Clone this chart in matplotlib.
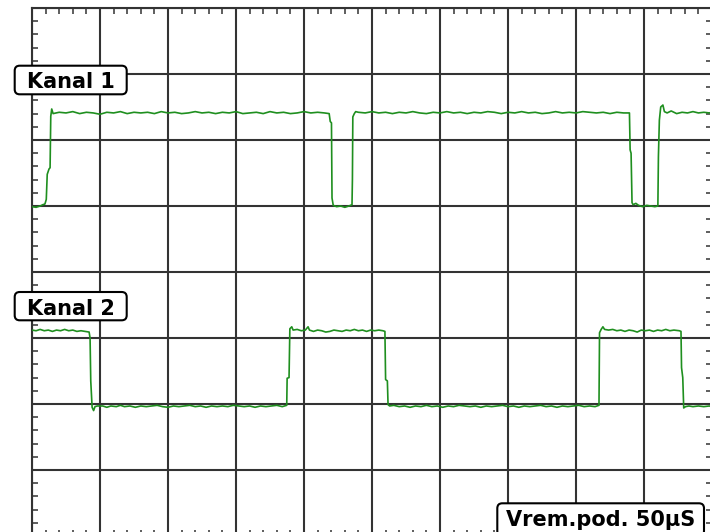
import matplotlib.pyplot as plt
from matplotlib.patches import FancyBboxPatch
from matplotlib.ticker import MultipleLocator

# time in microseconds, level in screen divisions (0 = bottom of screen)
ch1_t = [0, 3, 6, 8, 9.5, 10.5, 11.2, 12.5, 13.3, 13.8, 14.5, 15.5,
         20, 25, 30, 35, 40, 45, 50, 55, 60, 65, 70, 75, 80, 85, 90, 95, 100,
         105, 110, 115, 120, 125, 130, 135, 140, 145, 150, 155, 160, 165, 170,
         175, 180, 185, 190, 195, 200, 205, 210, 215, 218.5,
         219.3, 220.2, 220.6, 221.5, 224, 227, 230, 233, 235.3, 235.6, 235.9, 237, 238,
         240, 245, 250, 255, 260, 265, 270, 275, 280, 285, 290, 295, 300, 305,
         310, 315, 320, 325, 330, 335, 340, 345, 350, 355, 360, 365, 370, 375,
         380, 385, 390, 395, 400, 405, 410, 415, 420, 425, 430, 435, 439.3,
         439.8, 440.5, 441.2, 442, 444, 446, 449, 452, 455, 458, 460.2,
         460.6, 461.3, 462.3, 463.9, 465, 467, 470, 474, 478, 482, 486, 490, 494, 498, 500]
ch1_v = [4.99, 4.98, 5.00, 5.02, 5.03, 5.10, 5.48, 5.56, 5.58, 6.36, 6.47, 6.40,
         6.42, 6.41, 6.43, 6.40, 6.42, 6.41, 6.39, 6.42, 6.41, 6.43, 6.40, 6.42, 6.41, 6.42, 6.40, 6.43, 6.41,
         6.42, 6.40, 6.41, 6.43, 6.41, 6.42, 6.40, 6.42, 6.41, 6.43, 6.40, 6.41, 6.42, 6.40,
         6.43, 6.41, 6.42, 6.40, 6.41, 6.43, 6.41, 6.42, 6.41, 6.40,
         6.28, 6.26, 5.12, 5.01, 4.99, 5.00, 4.98, 5.00, 5.02, 5.40, 6.35, 6.40, 6.43,
         6.42, 6.41, 6.43, 6.41, 6.42, 6.40, 6.42, 6.41, 6.43, 6.41, 6.40, 6.42, 6.41, 6.43,
         6.41, 6.42, 6.40, 6.42, 6.41, 6.43, 6.42, 6.40, 6.42, 6.41, 6.43, 6.41, 6.42, 6.40,
         6.41, 6.43, 6.41, 6.42, 6.41, 6.43, 6.42, 6.41, 6.42, 6.40, 6.42, 6.41, 6.41,
         5.85, 5.80, 5.05, 5.02, 5.04, 5.01, 4.99, 5.01, 5.00, 4.99, 5.00,
         5.75, 6.30, 6.50, 6.53, 6.43, 6.41, 6.44, 6.40, 6.42, 6.41, 6.43, 6.41, 6.42, 6.41, 6.42]

ch2_t = [0, 3, 6, 9, 12, 15, 18, 21, 24, 27, 30, 33, 36, 39, 42,
         42.7, 43.2, 43.6, 44.2, 45.3, 46.3,
         48, 52, 55, 58, 62, 65, 68, 72, 76, 80, 84, 88, 92, 96, 100, 104, 108,
         112, 116, 120, 124, 128, 132, 136, 140, 144, 148, 152, 156, 160, 164,
         168, 172, 176, 180, 184, 187.3,
         187.6, 189.0, 189.6, 191, 192, 195, 198, 201, 203, 204, 207, 210, 213,
         216, 219, 222, 225, 228, 231, 234, 237, 240, 243, 246, 249, 252, 255, 258, 259.5,
         260.0, 261.3, 261.8, 263, 266, 270, 274, 278, 282, 286, 290, 294, 298,
         302, 306, 310, 314, 318, 322, 326, 330, 334, 338, 342, 346, 350, 354,
         358, 362, 366, 370, 374, 378, 382, 386, 390, 394, 398, 402, 406, 410, 414, 416.9,
         417.3, 418.5, 419.8, 421, 424, 427, 430, 433, 436, 439, 442, 445, 448,
         451, 454, 457, 460, 463, 466, 469, 472, 476, 477.2,
         477.6, 478.5, 479.2, 480.5, 483, 486, 490, 494, 498, 500]
ch2_v = [3.12, 3.11, 3.13, 3.11, 3.12, 3.10, 3.12, 3.11, 3.13, 3.11, 3.12, 3.10, 3.11, 3.10, 3.09,
         3.00, 2.35, 2.20, 1.95, 1.90, 1.96,
         1.97, 1.97, 1.95, 1.97, 1.96, 1.98, 1.96, 1.97, 1.95, 1.97, 1.96, 1.97, 1.98, 1.96, 1.95, 1.97, 1.96,
         1.97, 1.98, 1.96, 1.97, 1.95, 1.97, 1.96, 1.97, 1.96, 1.98, 1.97, 1.96, 1.97, 1.95,
         1.97, 1.96, 1.97, 1.98, 1.96, 1.98,
         2.39, 2.40, 3.14, 3.17, 3.12, 3.13, 3.11, 3.12, 3.17, 3.12, 3.10, 3.12, 3.11,
         3.09, 3.10, 3.12, 3.11, 3.10, 3.12, 3.11, 3.13, 3.11, 3.12, 3.10, 3.12, 3.11, 3.12, 3.11, 3.10,
         2.37, 2.35, 1.99, 1.97, 1.98, 1.96, 1.97, 1.95, 1.97, 1.96, 1.98, 1.96, 1.97,
         1.95, 1.97, 1.96, 1.98, 1.97, 1.96, 1.97, 1.95, 1.97, 1.96, 1.97, 1.98, 1.96, 1.97,
         1.95, 1.97, 1.96, 1.97, 1.98, 1.96, 1.97, 1.95, 1.97, 1.96, 1.97, 1.98, 1.96, 1.97, 1.96, 1.98,
         3.08, 3.13, 3.17, 3.13, 3.12, 3.13, 3.11, 3.12, 3.10, 3.12, 3.11, 3.09, 3.12,
         3.11, 3.12, 3.10, 3.12, 3.11, 3.13, 3.11, 3.12, 3.11, 3.10,
         2.55, 2.40, 1.94, 1.96, 1.97, 1.96, 1.97, 1.96, 1.97, 1.96]

labels = ["Kanal 1", "Kanal 2", "Vrem.pod. 50\u03bcS"]
# label boxes in pixels from top-left: x0, y0, x1, y1, text baseline
label_boxes = [(14.7, 65.7, 126.7, 94.3, 88.3),
               (14.7, 292.0, 126.7, 320.3, 314.6),
               (497.3, 503.3, 704.0, 536.0, 526.0)]

W, H = 710, 532
fig = plt.figure(figsize=(W / 100, H / 100), dpi=100)
# screen area: 10 x 8 divisions, 68 px by 66 px each, top-left at (32, 8)
ax = fig.add_axes([32 / W, (H - 536) / H, 680 / W, 528 / H])
ax.set_xlim(0, 500)
ax.set_ylim(0, 8)

grid_col = '#333333'
ax.xaxis.set_major_locator(MultipleLocator(50))
ax.yaxis.set_major_locator(MultipleLocator(1))
ax.xaxis.set_minor_locator(MultipleLocator(10))
ax.yaxis.set_minor_locator(MultipleLocator(0.2))
ax.grid(True, which='major', color=grid_col, lw=1.5)
ax.tick_params(which='major', length=0, labelbottom=False, labelleft=False)
ax.tick_params(which='minor', direction='in', length=4.5, width=1.1, color=grid_col,
               top=True, right=True, bottom=True, left=True)
for s in ax.spines.values():
    s.set_color(grid_col)
    s.set_linewidth(1.5)

ax.plot(ch1_t, ch1_v, color='#1f8f1f', lw=1.2, zorder=3)
ax.plot(ch2_t, ch2_v, color='#1f8f1f', lw=1.2, zorder=3)

for txt, (x0, y0, x1, y1, base) in zip(labels, label_boxes):
    box = FancyBboxPatch((x0 / 100, (H - y1) / 100), (x1 - x0) / 100, (y1 - y0) / 100,
                         boxstyle='round,pad=0,rounding_size=0.05',
                         transform=fig.dpi_scale_trans, fc='white', ec='black',
                         lw=1.5, zorder=5)
    fig.add_artist(box)
    fig.text((x0 + x1) / 200, (H - base) / 100, txt, transform=fig.dpi_scale_trans,
             ha='center', va='baseline', fontsize=15, fontweight='bold',
             family='DejaVu Sans', zorder=6)

fig.savefig('out.png', dpi=100)
